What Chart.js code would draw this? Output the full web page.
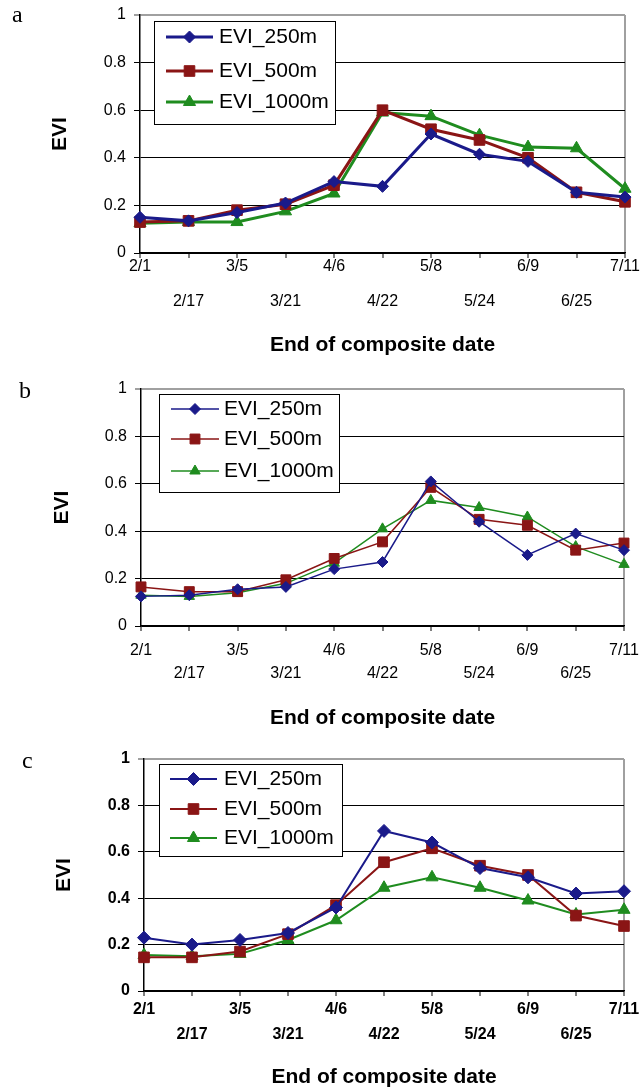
<!DOCTYPE html>
<html>
<head>
<meta charset="utf-8">
<script src="https://cdn.jsdelivr.net/npm/chart.js@4.4.1/dist/chart.umd.min.js"></script>
<style>
  body { margin: 0; background: #fff; width: 641px; height: 1091px; position: relative; overflow: hidden; }
  .panel { position: absolute; left: 0; width: 641px; }
  .letter { position: absolute; font-family: "Liberation Serif", serif; font-size: 24px; line-height: 1; }
</style>
</head>
<body>
<div class="panel" style="top:0;height:365px"><canvas id="chartA" width="641" height="365"></canvas></div>
<div class="panel" style="top:365px;height:365px"><canvas id="chartB" width="641" height="365"></canvas></div>
<div class="panel" style="top:730px;height:361px"><canvas id="chartC" width="641" height="361"></canvas></div>
<div class="letter" style="left:12px;top:2px">a</div>
<div class="letter" style="left:19px;top:378px">b</div>
<div class="letter" style="left:22px;top:748px">c</div>

<script>
const dates = ['2/1', '2/17', '3/5', '3/21', '4/6', '4/22', '5/8', '5/24', '6/9', '6/25', '7/11'];
const seriesNames = ['EVI_250m', 'EVI_500m', 'EVI_1000m'];
const yTicks = [0, 0.2, 0.4, 0.6, 0.8, 1];

// panel a
const a250 = [0.15, 0.135, 0.17, 0.21, 0.30, 0.28, 0.50, 0.415, 0.385, 0.255, 0.235];
const a500 = [0.13, 0.135, 0.18, 0.205, 0.285, 0.60, 0.52, 0.475, 0.40, 0.255, 0.215];
const a1000 = [0.125, 0.13, 0.13, 0.175, 0.25, 0.59, 0.575, 0.495, 0.445, 0.44, 0.27];

// panel b
const b250 = [0.125, 0.13, 0.155, 0.165, 0.24, 0.27, 0.61, 0.44, 0.30, 0.39, 0.32];
const b500 = [0.165, 0.145, 0.145, 0.195, 0.285, 0.355, 0.585, 0.45, 0.425, 0.32, 0.35];
const b1000 = [0.13, 0.125, 0.14, 0.18, 0.265, 0.41, 0.53, 0.50, 0.46, 0.335, 0.26];

// panel c
const c250 = [0.23, 0.20, 0.22, 0.25, 0.36, 0.69, 0.64, 0.53, 0.49, 0.42, 0.43];
const c500 = [0.145, 0.145, 0.17, 0.245, 0.37, 0.555, 0.615, 0.54, 0.50, 0.325, 0.28];
const c1000 = [0.155, 0.15, 0.16, 0.22, 0.305, 0.445, 0.49, 0.445, 0.39, 0.33, 0.35];

const colors = ['#1a1a8a', '#8a1515', '#1f8c1f'];
const shapes = ['rectRot', 'rect', 'triangle'];

Chart.defaults.font.family = '"Liberation Sans", Arial, sans-serif';
Chart.defaults.color = '#000';

function drawMarker(ctx, style, r, x, y) {
  if (Chart.helpers && Chart.helpers.drawPoint) {
    Chart.helpers.drawPoint(ctx, { pointStyle: style, radius: r, rotation: 0, borderWidth: 1 }, x, y);
    return;
  }
  ctx.beginPath();
  if (style === 'rect') {
    const s = r * Math.SQRT1_2;
    ctx.rect(x - s, y - s, 2 * s, 2 * s);
  } else if (style === 'rectRot') {
    ctx.moveTo(x, y - r); ctx.lineTo(x + r, y); ctx.lineTo(x, y + r); ctx.lineTo(x - r, y);
    ctx.closePath();
  } else {
    ctx.moveTo(x, y - r); ctx.lineTo(x + r * 0.866, y + r * 0.5); ctx.lineTo(x - r * 0.866, y + r * 0.5);
    ctx.closePath();
  }
  ctx.fill(); ctx.stroke();
}

// legend box drawn inside the plot, like the excel one
const boxLegend = {
  id: 'boxLegend',
  afterDatasetsDraw(chart, args, o) {
    const ctx = chart.ctx;
    ctx.save();
    ctx.fillStyle = '#fff';
    ctx.fillRect(o.x, o.y, o.w, o.h);
    ctx.strokeStyle = '#000';
    ctx.lineWidth = 1;
    ctx.strokeRect(o.x + 0.5, o.y + 0.5, o.w, o.h);
    chart.data.datasets.forEach((ds, i) => {
      const y = o.rows[i];
      ctx.strokeStyle = ds.borderColor;
      ctx.lineWidth = ds.borderWidth;
      ctx.beginPath();
      ctx.moveTo(o.x0, y);
      ctx.lineTo(o.x1, y);
      ctx.stroke();
      ctx.fillStyle = ds.backgroundColor;
      ctx.lineWidth = 1;
      drawMarker(ctx, ds.pointStyle, ds.pointRadius, (o.x0 + o.x1) / 2, y);
      ctx.fillStyle = '#000';
      ctx.font = o.font;
      ctx.textBaseline = 'middle';
      ctx.textAlign = 'left';
      ctx.fillText(ds.label, o.tx, y);
    });
    ctx.restore();
  }
};

function makeChart(id, values, p) {
  const H = document.getElementById(id).height;
  const datasets = values.map((v, i) => ({
    label: seriesNames[i],
    data: v,
    borderColor: colors[i],
    backgroundColor: colors[i],
    borderWidth: p.lw,
    pointStyle: shapes[i],
    pointRadius: p.radii[i],
    pointBorderWidth: 1,
    tension: 0,
    clip: false
  }));
  return new Chart(document.getElementById(id), {
    type: 'line',
    data: { labels: dates, datasets: datasets },
    plugins: [boxLegend],
    options: {
      responsive: false,
      animation: false,
      events: [],
      layout: { padding: { left: 0, right: 641 - p.right, top: p.top, bottom: 0 } },
      plugins: {
        legend: { display: false },
        tooltip: { enabled: false },
        boxLegend: p.legend
      },
      scales: {
        x: {
          grid: {
            color: c => c.index === dates.length - 1 ? '#a0a0a0' : 'rgba(0,0,0,0)',
            lineWidth: 2,
            tickColor: '#000',
            tickWidth: 1,
            tickLength: 5
          },
          border: { color: '#000', width: 1.5 },
          ticks: {
            autoSkip: false,
            maxRotation: 0,
            padding: p.tickPad,
            font: { size: p.xFont, weight: p.bold ? 'bold' : 'normal', lineHeight: p.rowGap / p.xFont },
            callback: (v, i) => i % 2 === 0 ? [dates[i]] : ['', dates[i]]
          },
          title: {
            display: true,
            text: 'End of composite date',
            font: { size: 21, weight: 'bold' },
            padding: { top: 0, bottom: H - p.titleY - 12.6 }
          },
          afterFit: s => { s.height = H - p.bottom; s.paddingLeft = 0; s.paddingRight = 0; }
        },
        y: {
          min: 0,
          max: 1,
          afterBuildTicks: s => { s.ticks = yTicks.map(v => ({ value: v })); },
          grid: {
            color: c => c.tick.value === 1 ? '#a0a0a0' : '#000',
            lineWidth: c => c.tick.value === 1 ? 2 : 1,
            tickLength: 6
          },
          border: { color: '#000', width: 1.5 },
          ticks: {
            padding: p.yPad,
            font: { size: 16, weight: p.bold ? 'bold' : 'normal' },
            callback: v => String(Math.round(v * 10) / 10)
          },
          title: {
            display: true,
            text: 'EVI',
            font: { size: 21, weight: 'bold' },
            padding: { top: p.eviX - 12.6, bottom: 0 }
          },
          afterFit: s => { s.width = p.left; s.paddingTop = 0; s.paddingBottom = 0; }
        }
      }
    }
  });
}

makeChart('chartA', [a250, a500, a1000], {
  top: 15, bottom: 253, left: 140, right: 625, titleY: 345, eviX: 60, yPad: 8,
  tickPad: -8.5, rowGap: 35, xFont: 16, bold: false, lw: 3, radii: [6, 7.5, 7],
  legend: { x: 154, y: 21, w: 181, h: 103, rows: [37, 71, 102], x0: 166, x1: 213, tx: 219, font: '21px "Liberation Sans", Arial' }
});

makeChart('chartB', [b250, b500, b1000], {
  top: 24, bottom: 261, left: 141, right: 624, titleY: 353, eviX: 62, yPad: 8,
  tickPad: 8.6, rowGap: 22.7, xFont: 16, bold: false, lw: 1.5, radii: [5.5, 7, 6],
  legend: { x: 159, y: 29, w: 180, h: 98, rows: [44, 74, 106], x0: 171, x1: 219, tx: 224, font: '21px "Liberation Sans", Arial' }
});

makeChart('chartC', [c250, c500, c1000], {
  top: 29, bottom: 261, left: 144, right: 624, titleY: 347, eviX: 64, yPad: 8,
  tickPad: 1.5, rowGap: 25, xFont: 16, bold: true, lw: 2, radii: [6.5, 7.5, 7],
  legend: { x: 159, y: 34, w: 183, h: 92, rows: [49, 79, 108], x0: 170, x1: 217, tx: 224, font: '21px "Liberation Sans", Arial' }
});
</script>
</body>
</html>
